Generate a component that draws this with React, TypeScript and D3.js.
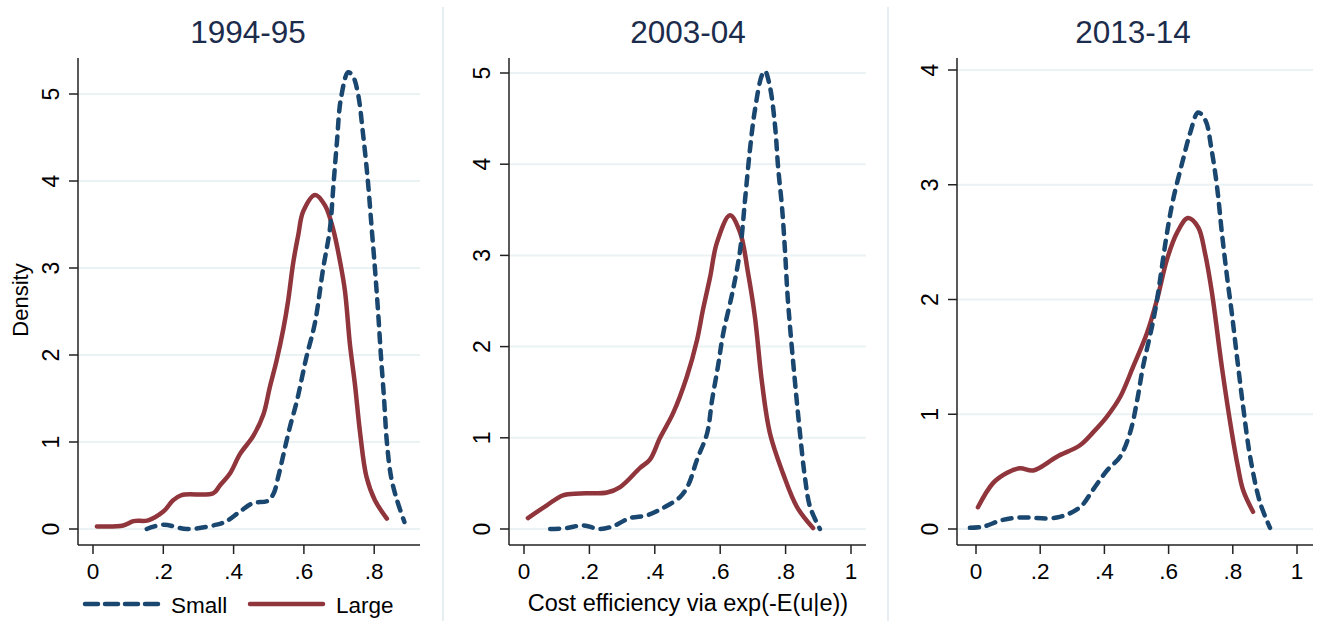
import React, { useEffect } from "react";
import * as d3 from "d3";

// kernel density estimates, x = efficiency, y = density
const titles = ["1994-95", "2003-04", "2013-14"];
const seriesNames = ["Small", "Large"];
const xTickValues = [0, 0.2, 0.4, 0.6, 0.8, 1];
const xTickLabels = ["0", ".2", ".4", ".6", ".8", "1"];

const small9495X = [0.153, 0.2, 0.267, 0.352, 0.38, 0.418, 0.456, 0.495, 0.513, 0.527, 0.542, 0.56, 0.58, 0.594, 0.608, 0.631, 0.655, 0.674, 0.684, 0.694, 0.705, 0.726, 0.74, 0.754, 0.768, 0.782, 0.792, 0.802, 0.811, 0.819, 0.828, 0.836, 0.848, 0.865, 0.886];
const small9495Y = [0, 0.05, 0, 0.05, 0.09, 0.2, 0.3, 0.32, 0.4, 0.6, 0.86, 1.17, 1.47, 1.73, 1.99, 2.36, 3.0, 3.45, 3.95, 4.45, 4.94, 5.25, 5.2, 5.0, 4.55, 4.0, 3.5, 3.0, 2.5, 2.0, 1.5, 1.0, 0.6, 0.33, 0.08];
const large9495X = [0.011, 0.086, 0.115, 0.157, 0.2, 0.228, 0.252, 0.342, 0.361, 0.39, 0.418, 0.456, 0.485, 0.503, 0.522, 0.542, 0.555, 0.57, 0.584, 0.598, 0.632, 0.66, 0.683, 0.703, 0.717, 0.731, 0.745, 0.76, 0.778, 0.802, 0.836];
const large9495Y = [0.03, 0.04, 0.09, 0.1, 0.2, 0.33, 0.39, 0.41, 0.5, 0.64, 0.86, 1.07, 1.32, 1.63, 1.93, 2.31, 2.62, 3.07, 3.38, 3.65, 3.84, 3.72, 3.45, 3.07, 2.73, 2.12, 1.67, 1.1, 0.6, 0.33, 0.12];

const small0304X = [0.08, 0.13, 0.18, 0.232, 0.272, 0.324, 0.376, 0.425, 0.477, 0.502, 0.529, 0.56, 0.575, 0.593, 0.609, 0.639, 0.661, 0.676, 0.691, 0.706, 0.728, 0.737, 0.752, 0.768, 0.777, 0.789, 0.798, 0.807, 0.829, 0.844, 0.859, 0.875, 0.905];
const small0304Y = [0, 0.01, 0.04, 0, 0.03, 0.12, 0.15, 0.23, 0.35, 0.48, 0.76, 1.05, 1.41, 1.78, 2.14, 2.62, 3.06, 3.61, 4.16, 4.59, 4.98, 5.02, 4.85, 4.41, 3.97, 3.53, 3.06, 2.51, 1.6, 1.05, 0.57, 0.24, 0];
const large0304X = [0.012, 0.07, 0.119, 0.171, 0.254, 0.294, 0.355, 0.385, 0.416, 0.456, 0.498, 0.529, 0.547, 0.569, 0.59, 0.63, 0.661, 0.685, 0.706, 0.728, 0.752, 0.792, 0.835, 0.884];
const large0304Y = [0.12, 0.26, 0.37, 0.39, 0.4, 0.46, 0.67, 0.76, 1.0, 1.27, 1.67, 2.07, 2.4, 2.76, 3.14, 3.44, 3.25, 2.81, 2.33, 1.6, 1.05, 0.61, 0.24, 0.01];

const small1314X = [-0.019, 0.022, 0.084, 0.137, 0.252, 0.324, 0.364, 0.408, 0.449, 0.48, 0.502, 0.52, 0.548, 0.564, 0.595, 0.614, 0.645, 0.667, 0.692, 0.715, 0.733, 0.751, 0.766, 0.782, 0.797, 0.813, 0.832, 0.854, 0.885, 0.916];
const small1314Y = [0.01, 0.02, 0.08, 0.1, 0.1, 0.19, 0.34, 0.51, 0.63, 0.84, 1.12, 1.41, 1.76, 2.0, 2.58, 2.87, 3.22, 3.45, 3.63, 3.56, 3.32, 2.98, 2.58, 2.2, 1.88, 1.5, 1.07, 0.63, 0.23, 0.01];
const large1314X = [0.006, 0.053, 0.097, 0.137, 0.178, 0.252, 0.324, 0.364, 0.408, 0.449, 0.489, 0.533, 0.564, 0.595, 0.626, 0.66, 0.692, 0.713, 0.735, 0.766, 0.797, 0.816, 0.832, 0.863];
const large1314Y = [0.19, 0.4, 0.49, 0.53, 0.51, 0.63, 0.73, 0.84, 0.98, 1.15, 1.41, 1.71, 2.0, 2.35, 2.58, 2.71, 2.63, 2.41, 2.06, 1.41, 0.84, 0.54, 0.34, 0.15];

const yMax = [5, 5, 4];

const NAVY = "#1a476f";
const MAROON = "#90353b";
const GRID = "#eaf2f3";
const FONT = "'Liberation Sans', Arial, sans-serif";

// panel geometry (pixels)
const panels = [
  { axisX: 78, right: 420, x0: 93, x1: 444.5, yTop: 94, xTicks: 5, cx: 248 },
  { axisX: 509, right: 866, x0: 524, x1: 851, yTop: 73, xTicks: 6, cx: 688 },
  { axisX: 957, right: 1313, x0: 976, x1: 1297, yTop: 70, xTicks: 6, cx: 1133 },
];
const Y0 = 529;
const AXIS_TOP = 58;
const AXIS_BOTTOM = 545;

const zip = (xs: number[], ys: number[]) => xs.map((x, i) => [x, ys[i]] as [number, number]);

const smallSeries = [zip(small9495X, small9495Y), zip(small0304X, small0304Y), zip(small1314X, small1314Y)];
const largeSeries = [zip(large9495X, large9495Y), zip(large0304X, large0304Y), zip(large1314X, large1314Y)];

const Panel = ({ i }: { i: number }) => {
  const p = panels[i];
  const x = d3.scaleLinear().domain([0, 1]).range([p.x0, p.x1]);
  const y = d3.scaleLinear().domain([0, yMax[i]]).range([Y0, p.yTop]);
  const line = d3
    .line<[number, number]>()
    .x((d) => x(d[0]))
    .y((d) => y(d[1]))
    .curve(d3.curveCatmullRom.alpha(0.5));
  const yTicks = d3.range(0, yMax[i] + 1);

  return (
    <g>
      {yTicks.map((t) => (
        <line key={"g" + t} x1={p.axisX} x2={p.right} y1={y(t)} y2={y(t)} stroke={GRID} strokeWidth={2} />
      ))}
      <path d={line(largeSeries[i]) || ""} fill="none" stroke={MAROON} strokeWidth={4.5} strokeLinejoin="round" strokeLinecap="round" />
      <path d={line(smallSeries[i]) || ""} fill="none" stroke={NAVY} strokeWidth={4.5} strokeDasharray="9 8" strokeLinecap="round" strokeLinejoin="round" />
      <line x1={p.axisX} x2={p.axisX} y1={AXIS_TOP} y2={AXIS_BOTTOM} stroke="#222" strokeWidth={1.5} />
      <line x1={p.axisX} x2={p.right} y1={AXIS_BOTTOM} y2={AXIS_BOTTOM} stroke="#222" strokeWidth={1.5} />
      {yTicks.map((t) => (
        <g key={"y" + t}>
          <line x1={p.axisX - 9} x2={p.axisX} y1={y(t)} y2={y(t)} stroke="#222" strokeWidth={1.5} />
          <text
            transform={`translate(${p.axisX - 19},${y(t)}) rotate(-90)`}
            textAnchor="middle"
            fontSize={23}
            fontFamily={FONT}
            fill="#000"
          >
            {t}
          </text>
        </g>
      ))}
      {xTickValues.slice(0, p.xTicks).map((t, k) => (
        <g key={"x" + k}>
          <line x1={x(t)} x2={x(t)} y1={AXIS_BOTTOM} y2={AXIS_BOTTOM + 9} stroke="#222" strokeWidth={1.5} />
          <text x={x(t)} y={579} textAnchor="middle" fontSize={22.5} fontFamily={FONT} fill="#000">
            {xTickLabels[k]}
          </text>
        </g>
      ))}
      <text x={p.cx} y={43} textAnchor="middle" fontSize={31.5} fontFamily={FONT} fill="#1c2c4c">
        {titles[i]}
      </text>
    </g>
  );
};

const App = () => {
  useEffect(() => {
    document.body.style.margin = "0";
  }, []);

  return (
    <svg width={1319} height={621} style={{ display: "block", background: "#fff" }}>
      <rect width={1319} height={621} fill="#fff" />
      <line x1={443} x2={443} y1={7} y2={621} stroke="#e6eef2" strokeWidth={2} />
      <line x1={888} x2={888} y1={7} y2={621} stroke="#e6eef2" strokeWidth={2} />
      {panels.map((_, i) => (
        <Panel key={i} i={i} />
      ))}
      <text transform="translate(28,300) rotate(-90)" textAnchor="middle" fontSize={22} fontFamily={FONT} fill="#000">
        Density
      </text>
      <text x={688} y={611} textAnchor="middle" fontSize={23.5} fontFamily={FONT} fill="#000">
        Cost efficiency via exp(-E(u|e))
      </text>
      {/* legend */}
      <line x1={85} x2={158} y1={604} y2={604} stroke={NAVY} strokeWidth={4.5} strokeDasharray="13 7" strokeLinecap="round" />
      <text x={171} y={613} fontSize={22.5} fontFamily={FONT} fill="#000">
        {seriesNames[0]}
      </text>
      <line x1={250} x2={323} y1={604} y2={604} stroke={MAROON} strokeWidth={4.5} strokeLinecap="round" />
      <text x={336} y={613} fontSize={22.5} fontFamily={FONT} fill="#000">
        {seriesNames[1]}
      </text>
    </svg>
  );
};

export default App;
